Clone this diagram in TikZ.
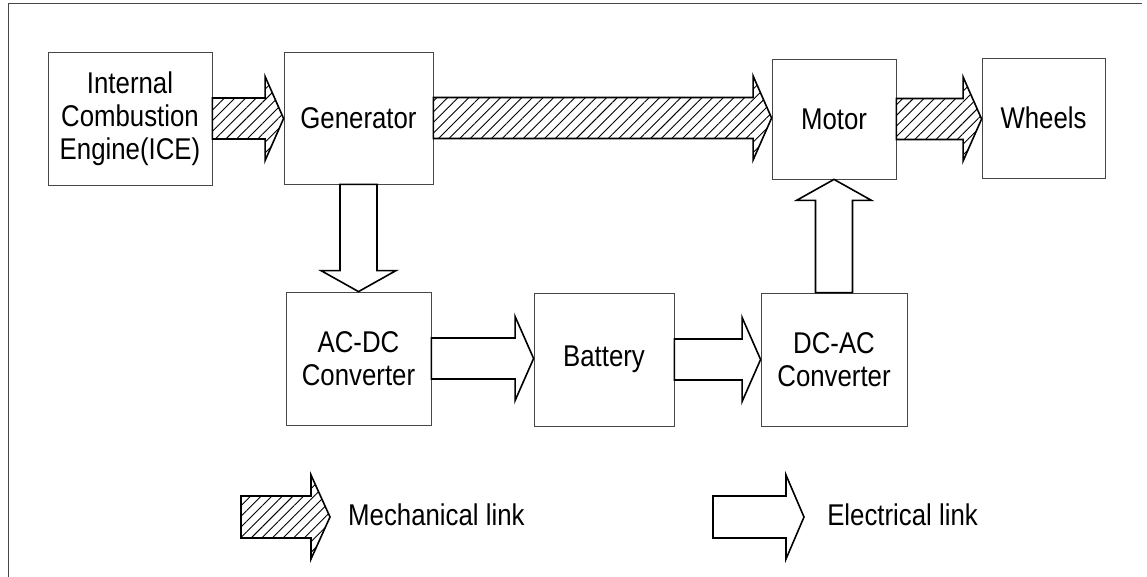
\documentclass[tikz,border=0pt]{standalone}
\usepackage{fontspec}
\setmainfont{Liberation Sans}[FakeStretch=0.86]
\usetikzlibrary{calc,patterns.meta}
\newcommand\hlink[3]{%
  \draw[#1] ($(#2.east)+(0,-20.5)$) -- ($(#3.west |- #2.east)+(-18.5,-20.5)$)
    -- ($(#3.west |- #2.east)+(-18.5,-42)$) -- (#3.west |- #2.east)
    -- ($(#3.west |- #2.east)+(-18.5,42)$) -- ($(#3.west |- #2.east)+(-18.5,20.5)$)
    -- ($(#2.east)+(0,20.5)$) -- cycle;}
\begin{document}
\begin{tikzpicture}[x=1pt,y=-1pt,
  box/.style={draw=black!72,line width=0.8pt,inner sep=0pt,align=center,
    font=\fontsize{30}{33}\selectfont},
  arr/.style={draw=black,line width=1.6pt,line join=miter},
  mech/.style={arr,pattern={Lines[angle=45,distance=7.5pt,line width=0.9pt]}},
  elec/.style={arr,fill=white},
  lbl/.style={font=\fontsize{30}{33}\selectfont,inner sep=0pt},
  frame/.style={draw=black!72,line width=0.8pt}]
\useasboundingbox (0,0) rectangle (1147,577);
\draw[frame] (8,577) -- (8,3) -- (1142,3);
% boxes
\node[box,minimum width=164pt,minimum height=133pt] (ice) at (130,118.5) {Internal\\Combustion\\Engine(ICE)};
\node[box,minimum width=149pt,minimum height=132pt] (gen) at (358.5,118) {Generator};
\node[box,minimum width=124pt,minimum height=120pt] (motor) at (834,119) {Motor};
\node[box,minimum width=123pt,minimum height=120pt] (wheels) at (1043.5,118) {Wheels};
\node[box,minimum width=145pt,minimum height=133pt] (acdc) at (358.5,358.5) {AC-DC\\Converter};
\node[box,minimum width=140pt,minimum height=133pt] (bat) at (604,359.5) {Battery};
\node[box,minimum width=146pt,minimum height=133pt] (dcac) at (834,359.5) {DC-AC\\Converter};
% mechanical links
\hlink{mech}{ice}{gen}
\hlink{mech}{gen}{motor}
\hlink{mech}{motor}{wheels}
% electrical links
\hlink{elec}{acdc}{bat}
\hlink{elec}{bat}{dcac}
\draw[elec] ($(gen.south)+(-18.5,0)$) -- ($(gen.south |- acdc.north)+(-18.5,-21)$)
  -- ($(gen.south |- acdc.north)+(-37.5,-21)$) -- (gen.south |- acdc.north)
  -- ($(gen.south |- acdc.north)+(37.5,-21)$) -- ($(gen.south |- acdc.north)+(18.5,-21)$)
  -- ($(gen.south)+(18.5,0)$) -- cycle;
\draw[elec] ($(dcac.north)+(-18.5,0)$) -- ($(dcac.north |- motor.south)+(-18.5,21)$)
  -- ($(dcac.north |- motor.south)+(-37.5,21)$) -- (dcac.north |- motor.south)
  -- ($(dcac.north |- motor.south)+(37.5,21)$) -- ($(dcac.north |- motor.south)+(18.5,21)$)
  -- ($(dcac.north)+(18.5,0)$) -- cycle;
% legend
\coordinate (mk) at (241,517);
\draw[mech] ($(mk)+(0,-21)$) -- ++(70,0) -- ++(0,-21) -- ($(mk)+(89,0)$)
  -- ($(mk)+(70,42)$) -- ++(0,-21) -- ($(mk)+(0,21)$) -- cycle;
\node[lbl,anchor=base west] (mlab) at (348,525) {Mechanical link};
\coordinate (ek) at (713,517);
\draw[elec] ($(ek)+(0,-21)$) -- ++(73,0) -- ++(0,-21) -- ($(ek)+(91,0)$)
  -- ($(ek)+(73,42)$) -- ++(0,-21) -- ($(ek)+(0,21)$) -- cycle;
\node[lbl,anchor=base east] (elab) at (978,525) {Electrical link};
\end{tikzpicture}
\end{document}
